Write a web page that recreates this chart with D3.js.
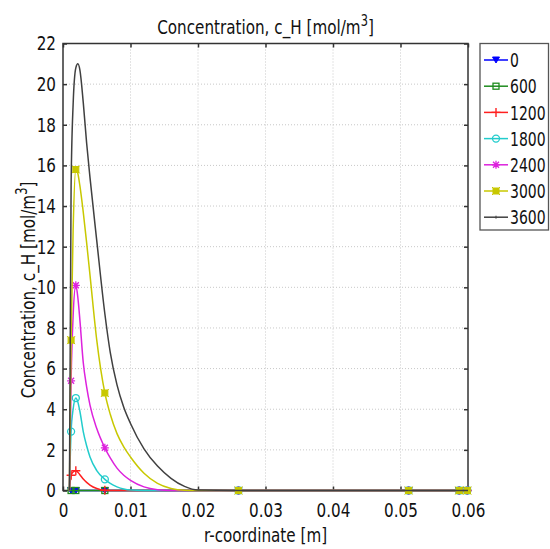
<!DOCTYPE html>
<html><head><meta charset="utf-8">
<script src="https://cdn.jsdelivr.net/npm/d3@7"></script>
<style>
body{margin:0;background:#fff;}
text{font-family:"DejaVu Sans",sans-serif;fill:#111;}
</style></head>
<body><svg id="c" width="550" height="549"></svg>
<script>
// ---- data ----
const rGrid = [0.00095,0.0012,0.0015,0.0019,0.0022,0.0025,0.003,0.0035,0.004,0.005,0.0062,0.007,0.008,0.009,0.010,0.012,0.014,0.016,0.018,0.020,0.026,0.03,0.04,0.0512,0.0587,0.0599,0.06];
const markerIdx = [1,3,10,20,23,24,25];
const seriesNames = ["0","600","1200","1800","2400","3000","3600"];
const c0    = [0,0,0,0,0,0,0,0,0,0,0,0,0,0,0,0,0,0,0,0,0,0,0,0,0,0,0];
const c600  = [0,0,0,0,0,0,0,0,0,0,0,0,0,0,0,0,0,0,0,0,0,0,0,0,0,0,0];
const c1200 = [0,0.75,0.92,0.97,0.9,0.78,0.57,0.4,0.27,0.1,0.01,0,0,0,0,0,0,0,0,0,0,0,0,0,0,0,0];
const c1800 = [0,2.9,4.0,4.55,4.35,3.9,2.9,2.2,1.65,0.98,0.55,0.35,0.18,0.07,0.02,0,0,0,0,0,0,0,0,0,0,0,0];
const c2400 = [0,5.4,8.6,10.1,9.5,8.4,6.3,5.1,4.2,3.05,2.1,1.6,1.1,0.75,0.5,0.18,0.04,0,0,0,0,0,0,0,0,0,0];
const c3000 = [0,7.4,12.8,15.8,15.6,15.0,13.7,12.2,10.6,7.4,4.8,3.75,2.8,2.15,1.65,0.85,0.35,0.1,0.01,0,0,0,0,0,0,0,0];
const c3600 = [0,15,19,20.8,21.0,20.7,19.1,17.1,15.4,12.3,8.7,6.8,5.2,4.1,3.3,2.05,1.2,0.6,0.2,0.02,0,0,0,0,0,0,0];
const seriesValues = [c0,c600,c1200,c1800,c2400,c3000,c3600];
const seriesColors = ["#0000ff","#1e8c1e","#ff2020","#22cccc","#dd22dd","#c8c800","#404040"];
const seriesMarkers = ["tri","square","plus","circle","star","fsquare","dot"];
const xTicks = [0,0.01,0.02,0.03,0.04,0.05,0.06];
const xTickLabels = ["0","0.01","0.02","0.03","0.04","0.05","0.06"];
const yTicks = [0,2,4,6,8,10,12,14,16,18,20,22];

// ---- layout ----
const svg = d3.select("#c");
const L=63, R=468, T=43.5, B=490.5;
const fs = 20, SQ = 0.76;
const x = d3.scaleLinear().domain([0,0.06]).range([L,R]);
const y = d3.scaleLinear().domain([0,22]).range([B,T]);
function squeeze(sel, f){
  sel.each(function(){
    const w = this.getComputedTextLength();
    if(w>0){ this.setAttribute("textLength", w*(f||SQ)); this.setAttribute("lengthAdjust","spacingAndGlyphs"); }
  });
}

// grid
const grid = svg.append("g");
grid.selectAll("line.gx").data(xTicks.slice(1,-1)).enter().append("line")
  .attr("x1",d=>x(d)).attr("x2",d=>x(d)).attr("y1",T).attr("y2",B)
  .attr("stroke","#c8c8c8").attr("stroke-dasharray","1,2");
grid.selectAll("line.gy").data(yTicks.slice(1,-1)).enter().append("line")
  .attr("x1",L).attr("x2",R).attr("y1",d=>y(d)).attr("y2",d=>y(d))
  .attr("stroke","#c8c8c8").attr("stroke-dasharray","1,2");

// axes
const ax = svg.append("g").attr("transform",`translate(0,${B})`)
  .call(d3.axisBottom(x).tickValues(xTicks).tickFormat((d,i)=>xTickLabels[i]).tickSize(-4).tickPadding(12));
const axT = svg.append("g").attr("transform",`translate(0,${T})`)
  .call(d3.axisTop(x).tickValues(xTicks).tickFormat("").tickSize(-4));
const ay = svg.append("g").attr("transform",`translate(${L},0)`)
  .call(d3.axisLeft(y).tickValues(yTicks).tickSize(-4).tickPadding(7));
const ayR = svg.append("g").attr("transform",`translate(${R},0)`)
  .call(d3.axisRight(y).tickValues(yTicks).tickFormat("").tickSize(-4));
[ax,axT,ay,ayR].forEach(g=>{
  g.select(".domain").remove();
  g.selectAll(".tick line").attr("stroke","#333").attr("stroke-width",1.5);
  g.selectAll("text").attr("font-size",fs).style("font-family",'"DejaVu Sans",sans-serif').attr("fill","#111");
});
squeeze(ax.selectAll("text")); squeeze(ay.selectAll("text"));
svg.append("rect").attr("x",L).attr("y",T).attr("width",R-L).attr("height",B-T)
  .attr("fill","none").attr("stroke","#333").attr("stroke-width",1.5);

// lines
const line = d3.line().x((d,i)=>x(rGrid[i])).y(d=>y(d)).curve(d3.curveMonotoneX);
const plot = svg.append("g");
function marker(g, type, color, cx, cy){
  if(type==="tri"){
    g.append("path").attr("d",`M${cx-3.5},${cy-3}L${cx+3.5},${cy-3}L${cx},${cy+3}Z`).attr("fill",color).attr("stroke",color);
  } else if(type==="square"){
    g.append("rect").attr("x",cx-3).attr("y",cy-3).attr("width",6).attr("height",6).attr("fill","none").attr("stroke",color).attr("stroke-width",1.3);
  } else if(type==="fsquare"){
    g.append("rect").attr("x",cx-3).attr("y",cy-3).attr("width",6).attr("height",6).attr("fill",color).attr("stroke",color).attr("stroke-width",1);
    g.append("path").attr("d",`M${cx-4},${cy-4}L${cx+4},${cy+4}M${cx-4},${cy+4}L${cx+4},${cy-4}`).attr("stroke",color).attr("stroke-width",1);
  } else if(type==="plus"){
    g.append("path").attr("d",`M${cx-4.5},${cy}L${cx+4.5},${cy}M${cx},${cy-4.5}L${cx},${cy+4.5}`).attr("stroke",color).attr("stroke-width",1.4);
  } else if(type==="circle"){
    g.append("circle").attr("cx",cx).attr("cy",cy).attr("r",3.5).attr("fill","none").attr("stroke",color).attr("stroke-width",1.3);
  } else if(type==="star"){
    g.append("path").attr("d",`M${cx-4},${cy}L${cx+4},${cy}M${cx},${cy-4}L${cx},${cy+4}M${cx-3},${cy-3}L${cx+3},${cy+3}M${cx-3},${cy+3}L${cx+3},${cy-3}`).attr("stroke",color).attr("stroke-width",1.3);
  } else if(type==="dot"){
    g.append("path").attr("d",`M${cx},${cy-1.5}L${cx},${cy+1.5}`).attr("stroke",color).attr("stroke-width",1);
  }
}
seriesValues.forEach((vals,s)=>{
  plot.append("path").datum(vals).attr("d",line).attr("fill","none")
    .attr("stroke",seriesColors[s]).attr("stroke-width",1.5);
  if(seriesMarkers[s]!=="dot"){
    markerIdx.forEach(i=>marker(plot, seriesMarkers[s], seriesColors[s], x(rGrid[i]), y(vals[i])));
  }
});

// titles (horizontally condensed via group scale)
function titleText(g){
  const t = g.append("text").attr("text-anchor","middle").attr("font-size",fs);
  t.append("tspan").text("Concentration, c_H [mol/m");
  t.append("tspan").attr("dy",-8).attr("font-size",15).text("3");
  t.append("tspan").attr("dy",8).text("]");
  return t;
}
titleText(svg.append("g").attr("transform",`translate(${(L+R)/2},34) scale(${SQ},1)`));
svg.append("g").attr("transform",`translate(${(L+R)/2},542) scale(${SQ},1)`)
  .append("text").attr("text-anchor","middle").attr("font-size",fs).text("r-coordinate [m]");
titleText(svg.append("g").attr("transform",`translate(35,290) rotate(-90) scale(${SQ},1)`));

// legend
const lg = svg.append("g");
lg.append("rect").attr("x",480).attr("y",43.5).attr("width",68.5).attr("height",186.5)
  .attr("fill","#fff").attr("stroke","#555").attr("stroke-width",1.3);
seriesNames.forEach((n,i)=>{
  const ly = 60 + i*26.2;
  lg.append("line").attr("x1",484).attr("x2",508).attr("y1",ly).attr("y2",ly).attr("stroke",seriesColors[i]).attr("stroke-width",1.5);
  marker(lg, seriesMarkers[i], seriesColors[i], 496, ly);
  lg.append("g").attr("transform",`translate(510,${ly}) scale(0.7,1)`)
    .append("text").attr("x",0).attr("y",0).attr("dy","0.36em").attr("font-size",fs).text(n);
});
</script></body></html>
